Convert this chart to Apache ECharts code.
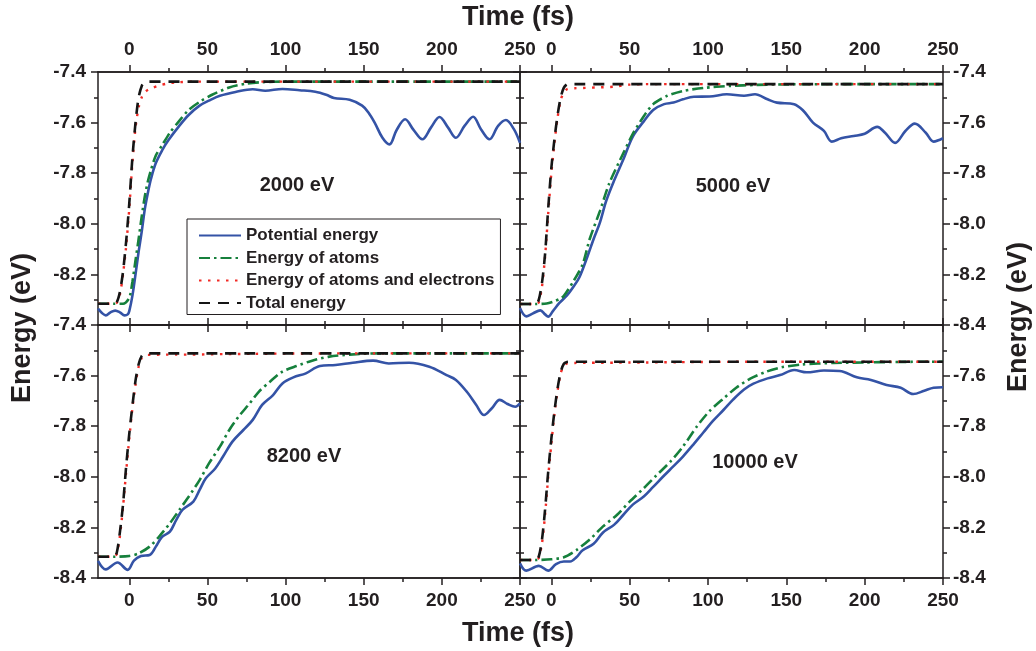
<!DOCTYPE html>
<html><head><meta charset="utf-8">
<script src="https://cdn.jsdelivr.net/npm/echarts@6/dist/echarts.min.js"></script>
<style>html,body{margin:0;padding:0;background:#fff}#c{width:1036px;height:651px}</style>
</head><body><div id="c"></div><script>
// ---------- data ----------
const panelLabels = ['2000 eV', '5000 eV', '8200 eV', '10000 eV'];
const seriesNames = ['Potential energy', 'Energy of atoms', 'Energy of atoms and electrons', 'Total energy'];
const majorX = [0, 50, 100, 150, 200, 250];
const minorX = [25, 75, 125, 175, 225];

// time grid for the fast (electronic) curves
const tFast = [-20,-10,-8,-6,-4,-2,0,2,4,6,8,10,12,15,20,25,30,40,50,60,80,100,150,200,250];

// 2000 eV
const total2000 = [-8.316,-8.316,-8.31,-8.27,-8.19,-8.07,-7.92,-7.74,-7.60,-7.50,-7.455,-7.44,-7.438,-7.438,-7.438,-7.438,-7.438,-7.438,-7.438,-7.438,-7.438,-7.438,-7.438,-7.438,-7.438];
const atEl2000 = [-8.316,-8.316,-8.312,-8.28,-8.20,-8.09,-7.94,-7.76,-7.62,-7.54,-7.50,-7.48,-7.47,-7.462,-7.452,-7.445,-7.441,-7.438,-7.438,-7.438,-7.438,-7.438,-7.438,-7.438,-7.438];
const tAtoms2000 = [-20,-10,-4,0,2,4,6,8,10,12,14,17,21,26,32,38,45,53,64,75,85,100,130,250];
const atoms2000 = [-8.316,-8.316,-8.316,-8.293,-8.23,-8.145,-8.06,-7.97,-7.89,-7.83,-7.785,-7.73,-7.69,-7.64,-7.593,-7.55,-7.518,-7.49,-7.461,-7.446,-7.44,-7.438,-7.438,-7.438];
const tPot2000 = [-20,-17,-15,-12,-9,-6,-3,-1,0,2,4,6,8,10,12,14,17,21,25,32,38,45,52,58,68,79,87,98,109,119,126,131,141,149,153,157,162,166.5,171,176.5,182,187.5,193,198.5,204,209,214.5,220,225,230.5,236,241,246,250];
const pot2000 = [-8.335,-8.355,-8.362,-8.35,-8.343,-8.35,-8.362,-8.358,-8.345,-8.285,-8.20,-8.11,-8.03,-7.94,-7.875,-7.82,-7.76,-7.71,-7.67,-7.613,-7.57,-7.533,-7.51,-7.494,-7.479,-7.468,-7.474,-7.467,-7.472,-7.478,-7.49,-7.503,-7.51,-7.533,-7.56,-7.60,-7.66,-7.686,-7.63,-7.587,-7.63,-7.666,-7.62,-7.578,-7.62,-7.66,-7.613,-7.577,-7.626,-7.666,-7.613,-7.59,-7.625,-7.68];

// 5000 eV
const total5000 = [-8.317,-8.317,-8.30,-8.235,-8.12,-7.94,-7.78,-7.665,-7.57,-7.50,-7.462,-7.449,-7.448,-7.448,-7.448,-7.448,-7.448,-7.448,-7.448,-7.448,-7.448,-7.448,-7.448,-7.448,-7.448];
const atEl5000 = [-8.317,-8.317,-8.31,-8.25,-8.13,-7.96,-7.80,-7.68,-7.58,-7.51,-7.48,-7.468,-7.465,-7.464,-7.463,-7.462,-7.461,-7.458,-7.45,-7.448,-7.448,-7.448,-7.448,-7.448,-7.448];
const tAtoms5000 = [-20,-10,-3,1,5,8,14,20,24.5,31,37,46,52,59,65,74,84,97,114,131,148,180,250];
const atoms5000 = [-8.317,-8.317,-8.315,-8.308,-8.298,-8.285,-8.228,-8.16,-8.06,-7.95,-7.84,-7.72,-7.645,-7.575,-7.527,-7.494,-7.475,-7.463,-7.455,-7.451,-7.449,-7.448,-7.448];
const tPot5000 = [-20,-16,-12,-7,-4,-2,1,5,10,14,18,23,27,31,35,40,46,52,59,65,72,78,84,91,101,112,123,130,138,144,155,161,167,174,179,185,193,200,208,213,219.5,226,232,239,244,250];
const pot5000 = [-8.333,-8.366,-8.355,-8.342,-8.358,-8.367,-8.345,-8.314,-8.283,-8.25,-8.21,-8.13,-8.06,-7.995,-7.91,-7.83,-7.745,-7.655,-7.595,-7.55,-7.527,-7.521,-7.508,-7.498,-7.497,-7.488,-7.494,-7.488,-7.508,-7.521,-7.527,-7.554,-7.60,-7.633,-7.675,-7.662,-7.653,-7.644,-7.617,-7.64,-7.68,-7.633,-7.604,-7.64,-7.675,-7.662];

// 8200 eV
const total8200 = [-8.316,-8.316,-8.30,-8.22,-8.11,-7.96,-7.83,-7.72,-7.62,-7.555,-7.522,-7.513,-7.512,-7.512,-7.512,-7.512,-7.512,-7.512,-7.512,-7.512,-7.512,-7.512,-7.512,-7.512,-7.512];
const atEl8200 = [-8.316,-8.316,-8.305,-8.235,-8.12,-7.98,-7.85,-7.73,-7.635,-7.565,-7.53,-7.52,-7.518,-7.518,-7.517,-7.517,-7.517,-7.517,-7.516,-7.515,-7.514,-7.513,-7.512,-7.512,-7.512];
const tAtoms8200 = [-20,-10,0,6,13,19,26,32,38,45,51,58,64,70,77,83,90,98,107,117,128,141,160,200,250];
const atoms8200 = [-8.316,-8.316,-8.313,-8.303,-8.276,-8.237,-8.184,-8.131,-8.079,-8.013,-7.947,-7.881,-7.815,-7.762,-7.71,-7.663,-7.624,-7.584,-7.562,-7.541,-7.525,-7.517,-7.512,-7.512,-7.512];
const tPot8200 = [-20,-15,-7.5,-1,3,7.5,13,17,21,26,30,34,41,45,49,55,60,66,73,79,85,92,98,105,113,122,132,143,156,166,179,192,203,209,216,222,227,232,237,242,247,250];
const pot8200 = [-8.332,-8.366,-8.339,-8.368,-8.331,-8.313,-8.309,-8.276,-8.237,-8.217,-8.171,-8.131,-8.098,-8.052,-8.006,-7.967,-7.92,-7.861,-7.815,-7.775,-7.716,-7.677,-7.631,-7.607,-7.591,-7.562,-7.558,-7.549,-7.541,-7.552,-7.549,-7.565,-7.598,-7.617,-7.664,-7.716,-7.756,-7.729,-7.696,-7.712,-7.723,-7.71];

// 10000 eV
const total10000 = [-8.329,-8.329,-8.315,-8.25,-8.13,-7.98,-7.85,-7.74,-7.65,-7.585,-7.553,-7.546,-7.545,-7.545,-7.545,-7.545,-7.545,-7.545,-7.545,-7.545,-7.545,-7.545,-7.545,-7.545,-7.545];
const atEl10000 = [-8.329,-8.329,-8.32,-8.265,-8.15,-8.00,-7.87,-7.75,-7.66,-7.59,-7.56,-7.552,-7.55,-7.55,-7.549,-7.549,-7.549,-7.549,-7.548,-7.548,-7.547,-7.546,-7.545,-7.545,-7.545];
const tAtoms10000 = [-20,-10,0,8,16,25,33,42,50,59,67,76,84,93,101,110,118,127,137,147,160,180,200,220,250];
const atoms10000 = [-8.329,-8.329,-8.326,-8.318,-8.29,-8.245,-8.196,-8.15,-8.098,-8.045,-7.995,-7.94,-7.881,-7.80,-7.74,-7.69,-7.648,-7.612,-7.585,-7.567,-7.556,-7.55,-7.548,-7.546,-7.545];
const tPot10000 = [-20,-16,-8,-2,3,8,12,16,20,27,33,40,46,52,59,65,72,78,84,91,97,103,110,116,123,129,138,146,155,163,174,184,195,204,214,223,231,238,244,250];
const pot10000 = [-8.342,-8.371,-8.352,-8.371,-8.345,-8.335,-8.335,-8.318,-8.29,-8.265,-8.22,-8.19,-8.15,-8.11,-8.078,-8.04,-7.995,-7.958,-7.92,-7.87,-7.825,-7.78,-7.735,-7.695,-7.655,-7.632,-7.611,-7.598,-7.578,-7.587,-7.58,-7.582,-7.607,-7.617,-7.637,-7.648,-7.673,-7.66,-7.648,-7.646];

// ---------- chart ----------
const FONT = '"Liberation Sans", Arial, Helvetica, sans-serif';
const INK = '#231f20';
const lineStyles = [
  {color:'#3453a6', width:2.6, type:'solid'},
  {color:'#16803c', width:2.6, type:[11,4,2.5,4]},
  {color:'#f22a25', width:2.4, type:[2.5,6.5]},
  {color:'#151515', width:2.6, type:[11,8]}
];
const panels = [
  {pot:[tPot2000,pot2000], atoms:[tAtoms2000,atoms2000], atEl:[tFast,atEl2000], total:[tFast,total2000]},
  {pot:[tPot5000,pot5000], atoms:[tAtoms5000,atoms5000], atEl:[tFast,atEl5000], total:[tFast,total5000]},
  {pot:[tPot8200,pot8200], atoms:[tAtoms8200,atoms8200], atEl:[tFast,atEl8200], total:[tFast,total8200]},
  {pot:[tPot10000,pot10000], atoms:[tAtoms10000,atoms10000], atEl:[tFast,atEl10000], total:[tFast,total10000]}
];
const grids = [
  {left:98, top:72, width:422, height:253},
  {left:520, top:72, width:423, height:253},
  {left:98, top:325, width:422, height:253},
  {left:520, top:325, width:423, height:253}
];
const axLine = {onZero:false, lineStyle:{color:INK, width:1.5}};
const tickLS = {color:INK, width:1.5};
const labelBase = {fontSize:19, fontWeight:'bold', color:INK, fontFamily:FONT};

const xAxis = [], yAxis = [], series = [];
grids.forEach((g, gi) => {
  const isTop = gi < 2, isLeft = gi % 2 === 0;
  const base = {type:'value', gridIndex:gi, min:-20, max:250, splitLine:{show:false}, axisLine:axLine};
  ['bottom','top'].forEach(pos => {
    const showLab = (pos === 'top') === isTop;
    xAxis.push(Object.assign({}, base, {position:pos,
      axisTick:{customValues:majorX, length:7, lineStyle:tickLS},
      axisLabel:Object.assign({show:showLab, customValues:majorX, margin:13}, labelBase)}));
    xAxis.push(Object.assign({}, base, {position:pos,
      axisTick:{customValues:minorX, length:4, lineStyle:tickLS},
      axisLabel:{show:false}}));
  });
  ['left','right'].forEach(pos => {
    const showLab = (pos === 'left') === isLeft;
    yAxis.push({type:'value', gridIndex:gi, position:pos, min:-8.4, max:-7.4, interval:0.2,
      splitLine:{show:false}, axisLine:axLine,
      axisTick:{length:7, lineStyle:tickLS},
      minorTick:{show:true, splitNumber:2, length:4, lineStyle:tickLS},
      axisLabel:Object.assign({show:showLab, margin: pos === 'left' ? 12 : 10,
        formatter: v => v.toFixed(1),
        showMinLabel: !(gi === 0 && pos === 'left'),
        showMaxLabel: !(gi === 3 && pos === 'right')}, labelBase)});
  });
  const p = panels[gi];
  [p.pot, p.atoms, p.atEl, p.total].forEach((d, si) => {
    series.push({type:'line', name:seriesNames[si], xAxisIndex:gi*4, yAxisIndex:gi*2,
      data:d[0].map((t, i) => [t, d[1][i]]),
      showSymbol:false, symbol:'none', smooth: si === 0 ? 0.35 : 0.25,
      lineStyle:lineStyles[si], itemStyle:{color:lineStyles[si].color},
      emphasis:{disabled:true}, animation:false, z:2 + si});
  });
});

const txt = (text, x, y, size, rot) => ({type:'text', x, y, rotation: rot || 0, z:100,
  style:{text, font:'bold ' + size + 'px ' + FONT, fill:INK, align:'center', verticalAlign:'middle'}});

const option = {
  backgroundColor:'#fff',
  animation:false,
  grid:grids,
  xAxis, yAxis, series,
  legend:{orient:'vertical', left:187, top:219, itemWidth:42, itemHeight:12, itemGap:5.5,
    padding:[8,6,3,11], borderColor:INK, borderWidth:1, backgroundColor:'#fff',
    selectedMode:false, data:seriesNames,
    itemStyle:{opacity:0, borderWidth:0},
    textStyle:{fontSize:17, fontWeight:'bold', color:INK, fontFamily:FONT, lineHeight:17}},
  graphic:[
    txt('Time (fs)', 518, 18, 27),
    txt('Time (fs)', 518, 634, 27),
    txt('Energy (eV)', 23, 328, 27, Math.PI/2),
    txt('Energy (eV)', 1019, 317, 27, Math.PI/2),
    txt(panelLabels[0], 297, 185, 20),
    txt(panelLabels[1], 733, 186, 20),
    txt(panelLabels[2], 304, 456, 20),
    txt(panelLabels[3], 755, 462, 20)
  ]
};
const chart = echarts.init(document.getElementById('c'), null, {renderer:'canvas'});
chart.setOption(option);
</script></body></html>
